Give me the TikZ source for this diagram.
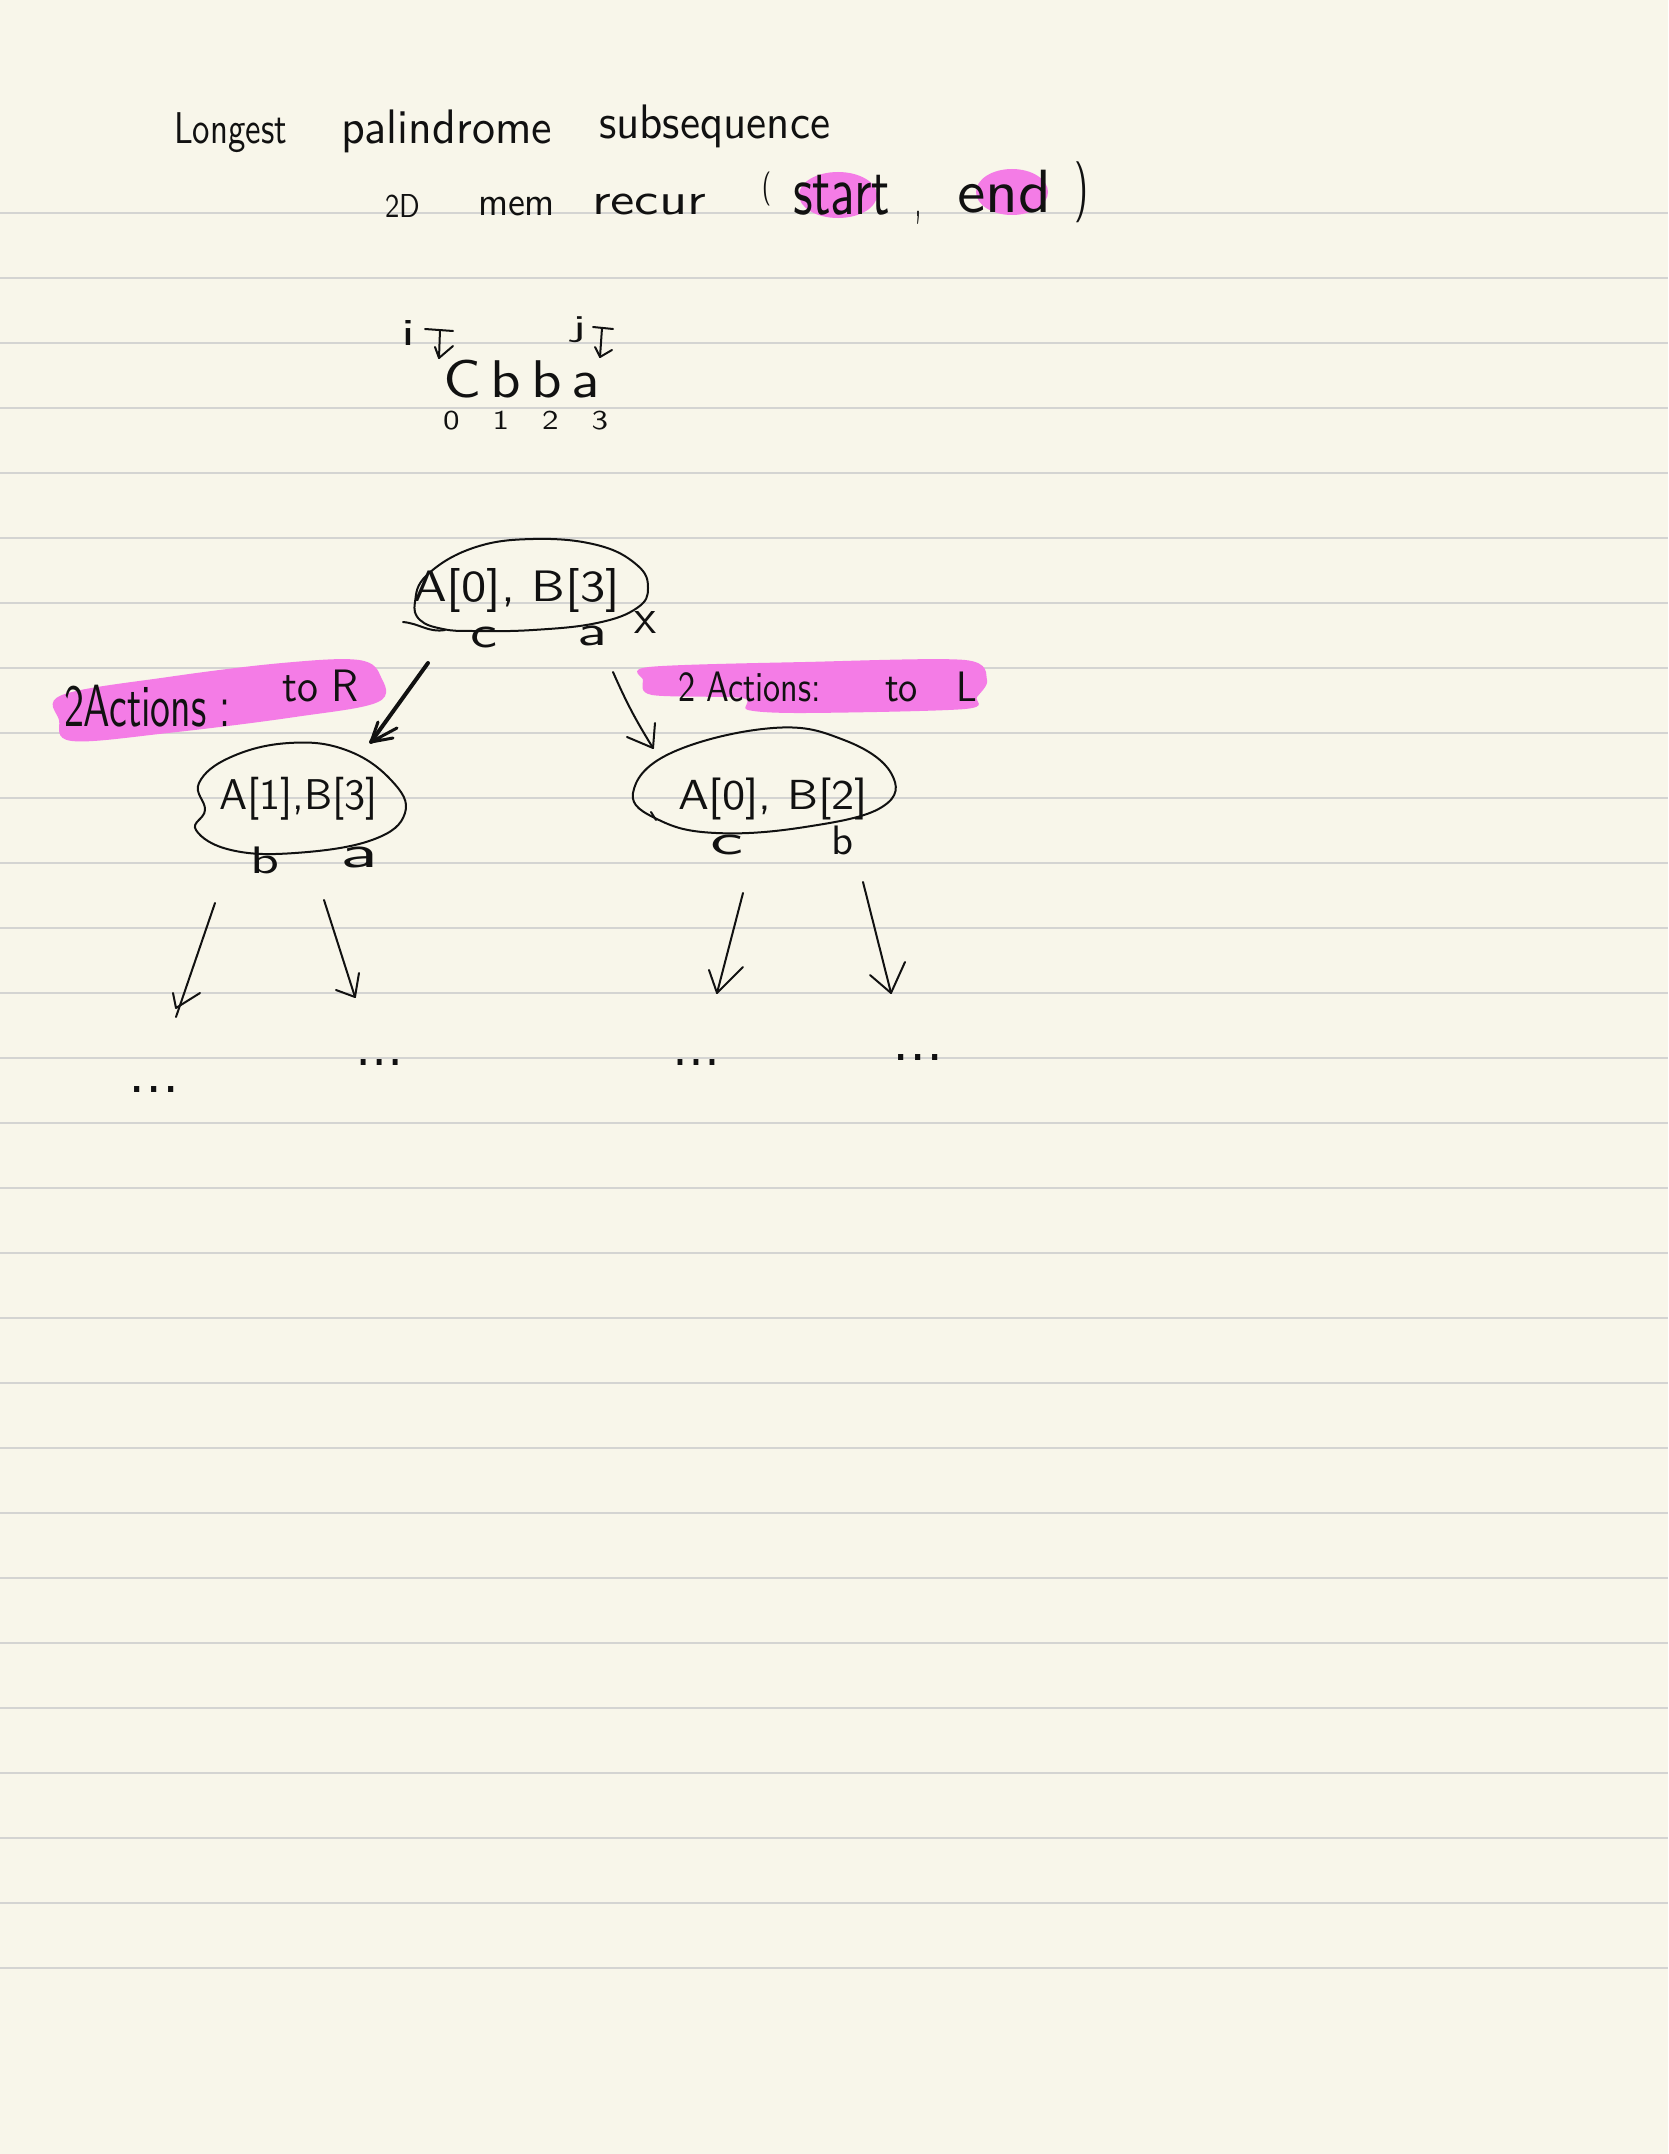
\documentclass[tikz,border=0pt]{standalone}
\usepackage{graphicx}
\definecolor{paper}{HTML}{F8F6EA}
\definecolor{rulecol}{HTML}{D4D4D2}
\definecolor{inkcol}{HTML}{111111}
\definecolor{hlcol}{HTML}{F47CE6}
\newcommand{\fitbox}[3]{\resizebox*{#1pt}{#2pt}{#3}}
\begin{document}
\begin{tikzpicture}[x=1pt,y=-1pt,
  hw/.style={inner sep=0pt, outer sep=0pt, anchor=south west, text=inkcol, font=\sffamily},
  pen/.style={draw=inkcol, line width=2pt, line cap=round, line join=round},
  thickpen/.style={draw=inkcol, line width=4pt, line cap=round, line join=round},
  rulel/.style={draw=rulecol, line width=2pt},
  hl/.style={fill=hlcol, draw=none}]
\fill[paper] (0,0) rectangle (1668,2154);
\useasboundingbox (0,0) rectangle (1668,2154);
% ruled lines
\foreach \k in {0,...,27} \draw[rulel] (0,{212.7+65*\k}) -- (1668,{212.7+65*\k});

% highlights
\fill[hl] (838,195) ellipse [x radius=39, y radius=23];
\fill[hl] (1012,192) ellipse [x radius=36, y radius=23];
\fill[hl] plot[smooth cycle, tension=0.6] coordinates {(62,695) (168,677) (282,663) (359,660) (381,677) (378,702) (295,717) (168,733) (72,741) (59,720)};
\fill[hl] plot[smooth cycle, tension=0.5] coordinates {(649,667) (805,662) (965,660) (987,680) (977,697) (965,709) (805,713) (748,710) (742,698) (652,695) (643,680)};

% title
\node[hw] (tLongest) at (174,153) {\fitbox{113}{40}{Longest}};
\node[hw] (tPal) at (341,153) {\fitbox{211}{43}{palindrome}};
\node[hw] (tSub) at (599,148) {\fitbox{231}{43}{subsequence}};
\node[hw] (t2D) at (385,218) {\fitbox{35}{23}{2D}};
\node[hw] (tMem) at (478,216) {\fitbox{77}{19}{mem}};
\node[hw] (tRecur) at (592,215) {\fitbox{114}{21}{recur}};
\node[hw] (tLp) at (762,206) {\fitbox{9}{34}{(}};
\node[hw] (tStart) at (793,215) {\fitbox{97}{40}{start}};
\node[hw] (tComma) at (915,224) {\fitbox{6}{13}{,}};
\node[hw] (tEnd) at (957,213) {\fitbox{94}{43}{end}};
\node[hw] (tRp) at (1074,223) {\fitbox{14}{61}{)}};

% string with pointers
\node[hw] (tI) at (401,345) {\fitbox{14}{25}{i}};
\node[hw] (tJ) at (572,343) {\fitbox{14}{26}{j}};
\node[hw] (tStr) at (443,398) {\fitbox{157}{38}{C\,b\,b\,a}};
\node[hw] (tIdx) at (443,430) {\fitbox{165}{19}{0\quad 1\quad 2\quad 3}};
\coordinate (iTip) at (439,358);
\coordinate (jTip) at (600,357);
\draw[pen] (425,329) -- (453,331) (440,330) -- (iTip);
\draw[pen] (435,347) -- (iTip) -- (453,346);
\draw[pen] (593,327) -- (613,329) (602,328) -- (jTip);
\draw[pen] (595,347) -- (jTip) -- (612,350);

% root
\draw[pen] plot[smooth cycle, tension=0.7] coordinates {(415,602) (427,575) (473,548) (533,539) (597,545) (637,565) (648,588) (637,608) (597,623) (533,630) (473,631) (443,629) (420,620)};
\draw[pen] (403,622) to[out=-5,in=190] (445,630);
\node[hw] (root) at (413,612) {\fitbox{207}{44}{A[0], B[3]}};
\node[hw] (rc) at (470,648) {\fitbox{27}{21}{c}};
\node[hw] (ra) at (577,646) {\fitbox{30}{20}{a}};
\node[hw] (rx) at (634,633) {\fitbox{22}{22}{x}};

% labels
\node[hw] (lblL) at (64,727) {\fitbox{167}{42}{2Actions :}};
\node[hw] (lblLto) at (282,702) {\fitbox{77}{32}{to R}};
\node[hw] (lblR) at (678,702) {\fitbox{143}{30}{2 Actions:}};
\node[hw] (lblRto) at (885,702) {\fitbox{92}{30}{to\quad L}};

% root arrows
\coordinate (aLs) at (428,663);
\coordinate (aLe) at (371,742);
\coordinate (aRs) at (613,672);
\coordinate (aRe) at (653,748);
\draw[thickpen] (aLs) -- (aLe);
\draw[draw=inkcol, line width=3pt, line cap=round, line join=round] (378,722) -- (aLe) -- (397,728) (aLe) -- (393,738);
\draw[pen] (aRs) to[bend right=4] (aRe);
\draw[pen] (627,737) -- (aRe) -- (655,723);

% children
\draw[pen] plot[smooth cycle, tension=0.7] coordinates {(199,783) (231,757) (289,743) (346,750) (391,780) (405,813) (372,840) (295,853) (231,850) (196,830) (205,810)};
\node[hw] (cL) at (219,820) {\fitbox{159}{43}{A[1],B[3]}};
\node[hw] (cLb) at (250,874) {\fitbox{29}{27}{b}};
\node[hw] (cLa) at (340,868) {\fitbox{38}{21}{a}};

\draw[pen] plot[smooth cycle, tension=0.7] coordinates {(633,793) (671,753) (773,728) (844,740) (891,773) (882,807) (805,827) (716,833) (659,820)};
\draw[pen] (651,812) -- (656,820);
\node[hw] (cR) at (678,820) {\fitbox{190}{42}{A[0], B[2]}};
\node[hw] (cRc) at (710,855) {\fitbox{33}{20}{c}};
\node[hw] (cRb) at (831,855) {\fitbox{22}{29}{b}};

% grandchild arrows
\coordinate (gLLs) at (215,903);
\coordinate (gLLe) at (176,1017);
\coordinate (gLLt) at (176,1008);
\coordinate (gLRs) at (324,900);
\coordinate (gLRe) at (355,997);
\coordinate (gRLs) at (743,893);
\coordinate (gRLe) at (717,993);
\coordinate (gRRs) at (863,882);
\coordinate (gRRe) at (891,993);
\draw[pen] (gLLs) -- (gLLe);
\draw[pen] (173,993) -- (gLLt) -- (200,993);
\draw[pen] (gLRs) -- (gLRe);
\draw[pen] (336,990) -- (gLRe) -- (359,973);
\draw[pen] (gRLs) -- (gRLe);
\draw[pen] (709,970) -- (gRLe) -- (743,967);
\draw[pen] (gRRs) -- (gRRe);
\draw[pen] (870,975) -- (gRRe) -- (905,962);

% dots
\node[hw] (dLL) at (128,1092) {\fitbox{52}{6}{...}};
\node[hw] (dLR) at (355,1065) {\fitbox{49}{6}{...}};
\node[hw] (dRL) at (672,1065) {\fitbox{48}{6}{...}};
\node[hw] (dRR) at (892,1060) {\fitbox{52}{6}{...}};
\end{tikzpicture}
\end{document}
